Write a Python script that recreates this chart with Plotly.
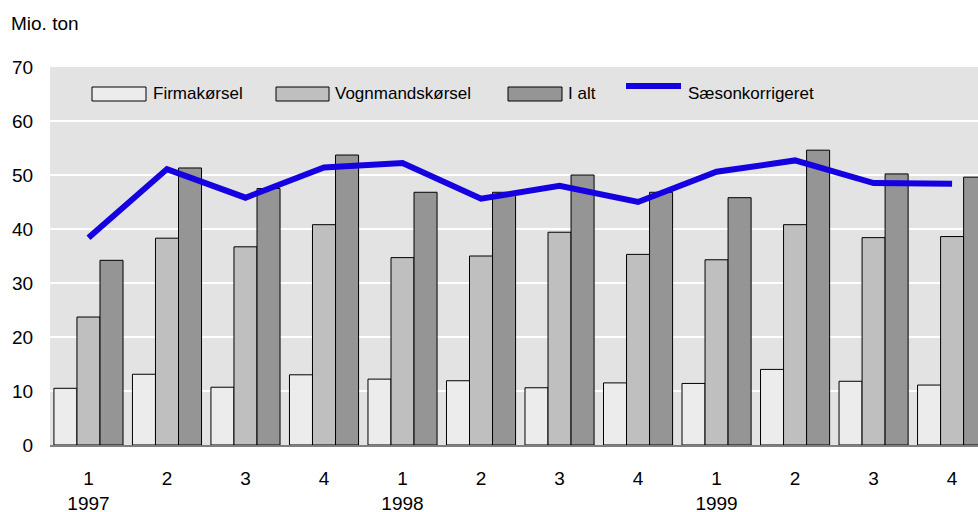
import plotly.graph_objects as go

quarters = ["1", "2", "3", "4", "1", "2", "3", "4", "1", "2", "3", "4"]
years = ["1997", "", "", "", "1998", "", "", "", "1999", "", "", ""]
firmakorsel = [10.5, 13.1, 10.7, 13.0, 12.2, 11.9, 10.6, 11.5, 11.4, 14.0, 11.8, 11.1]
vognmand = [23.7, 38.3, 36.7, 40.8, 34.7, 35.0, 39.4, 35.3, 34.3, 40.8, 38.4, 38.6]
i_alt = [34.2, 51.3, 47.5, 53.7, 46.8, 46.8, 50.0, 46.8, 45.8, 54.6, 50.2, 49.6]
saeson = [38.4, 51.1, 45.8, 51.4, 52.2, 45.6, 48.0, 45.0, 50.6, 52.7, 48.5, 48.4]

series_names = ["Firmakørsel", "Vognmandskørsel", "I alt", "Sæsonkorrigeret"]
bar_colors = ["#ececec", "#bfbfbf", "#959595"]
line_color = "#1400e0"

x = list(range(len(quarters)))
ticktext = [q + ("<br>" + y if y else "") for q, y in zip(quarters, years)]

FONT = "Liberation Sans, Arial, sans-serif"

W, H = 978, 512
ML, MR, MT, MB = 50, 0, 67, 67
PW, PH = W - ML - MR, H - MT - MB


def px(xp):
    return (xp - ML) / PW


def py(yp):
    return 1 - (yp - MT) / PH


fig = go.Figure()
for name, vals, col in zip(series_names[:3], [firmakorsel, vognmand, i_alt], bar_colors):
    fig.add_trace(go.Bar(x=x, y=vals, name=name,
                         marker=dict(color=col, line=dict(color="#000000", width=1))))
fig.add_trace(go.Scatter(x=x, y=saeson, name=series_names[3], mode="lines",
                         line=dict(color=line_color, width=6)))

# custom legend (wide swatches as in the original)
shapes = []
annotations = []
box_x = [(92, 146), (276, 329), (508, 562)]
text_x = [151, 333, 566]
for (x0, x1), tx, col, name in zip(box_x, text_x, bar_colors, series_names[:3]):
    shapes.append(dict(type="rect", xref="paper", yref="paper",
                       x0=px(x0), x1=px(x1), y0=py(101), y1=py(87),
                       fillcolor=col, line=dict(color="#000000", width=1), layer="above"))
    annotations.append(dict(text=name, xref="paper", yref="paper", x=px(tx), y=py(94),
                            xanchor="left", yanchor="middle", showarrow=False,
                            font=dict(size=17)))
shapes.append(dict(type="line", xref="paper", yref="paper", x0=px(626), x1=px(681),
                   y0=py(86), y1=py(86), line=dict(color=line_color, width=6),
                   layer="above"))
annotations.append(dict(text=series_names[3], xref="paper", yref="paper", x=px(686),
                        y=py(94), xanchor="left", yanchor="middle", showarrow=False,
                        font=dict(size=17)))
annotations.append(dict(text="Mio. ton", xref="paper", yref="paper", x=px(9), y=py(23),
                        xanchor="left", yanchor="middle", showarrow=False,
                        font=dict(size=19)))

fig.update_layout(
    width=W, height=H,
    margin=dict(l=ML, r=MR, t=MT, b=MB, autoexpand=False),
    paper_bgcolor="white",
    plot_bgcolor="#e3e3e3",
    barmode="group",
    bargap=0.12,
    bargroupgap=0,
    font=dict(family=FONT, size=19, color="#000000"),
    showlegend=False,
    xaxis=dict(range=[-0.49, 11.33], tickmode="array", tickvals=x, ticktext=ticktext,
               showgrid=False, zeroline=False, showline=True, linecolor="#7f7f7f",
               linewidth=2, ticks="outside", ticklen=15, tickcolor="rgba(0,0,0,0)",
               automargin=False),
    yaxis=dict(range=[0, 70], dtick=10, showgrid=True, gridcolor="white", gridwidth=2,
               zeroline=False, showline=False, ticks="outside", ticklen=12,
               tickcolor="rgba(0,0,0,0)", automargin=False),
    shapes=shapes,
    annotations=annotations,
)

fig.write_html("out.html",
               config={"displayModeBar": False},
               post_script="document.body.style.margin='0';document.body.style.overflow='hidden';")
